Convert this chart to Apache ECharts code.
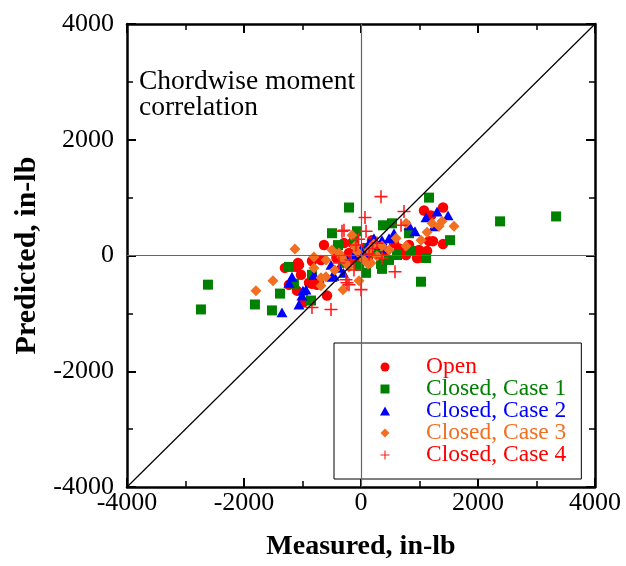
<!DOCTYPE html>
<html>
<head>
<meta charset="utf-8">
<script src="https://cdn.jsdelivr.net/npm/echarts@6/dist/echarts.min.js"></script>
<style>
  html, body { margin: 0; padding: 0; background: #fff; }
  #chart { width: 626px; height: 566px; }
</style>
</head>
<body>
<div id="chart"></div>
<script>
// axis ticks
const tickValues = [-4000, -2000, 0, 2000, 4000];

// measured / predicted pairs, in-lb
const openPts = [
  [-633, 180], [-1300, -214], [-1077, -128], [-1111, -197], [-1026, -333],
  [-1231, -504], [-1094, -607], [-838, -94], [-838, -487], [-718, -470],
  [-581, -693], [-684, -77], [-992, -812], [-1060, -162], [-889, -470],
  [-752, -504], [1077, 778], [1402, 829], [1197, 693], [1231, 248],
  [1163, 248], [1402, 197], [992, 94], [1129, 77], [975, -43],
  [770, 9], [188, 265], [257, 162], [428, 77], [958, -43],
  [-205, 43], [-103, -77], [51, 128], [-291, 214], [564, 214], [821, 180],
  [-420, -40], [300, 0], [650, 120], [-150, 220], [120, -30]
];
const case1Pts = [
  [-205, 829], [-496, 385], [-393, 180], [-1231, -197], [-2616, -504],
  [-2736, -932], [-1813, -846], [-1522, -949], [-1385, -658], [-1146, -487],
  [-855, -778], [-838, -333], [1163, 1000], [2377, 590], [3335, 675],
  [1522, 265], [376, 522], [530, 556], [821, 385], [1112, -43],
  [1026, -453], [342, -145], [359, -231], [86, -299], [616, 9],
  [-68, 419], [855, 77], [137, 128], [-291, -128], [-120, 299], [479, -77],
  [-30, -180], [250, 60]
];
const case2Pts = [
  [-1180, -368], [-992, -607], [-941, -590], [-1009, -693], [-1060, -846],
  [-1351, -983], [-804, -333], [-513, -162], [-496, -368], [-376, -214],
  [-1231, -470], [-462, -351], [1300, 761], [1488, 693], [1112, 658],
  [1248, 504], [923, 419], [821, 522], [564, 385], [479, 299],
  [359, 265], [308, 180], [-120, 9], [0, 94], [-239, -77], [137, 214], [222, 299],
  [-300, -300], [420, 120], [60, 40]
];
const case3Pts = [
  [-1129, 111], [-1505, -436], [-1796, -607], [-804, -26], [-804, -214],
  [-599, -77], [-599, -368], [-684, -522], [-308, -590], [-154, 351],
  [-257, -128], [-496, 94], [1590, 504], [1385, 590], [1334, 504],
  [1214, 556], [1129, 402], [1026, 265], [770, 556], [770, 162],
  [359, 162], [137, 94], [120, -145], [-34, -436], [-205, -197],
  [171, -128], [-684, -385], [-376, 43], [-103, 162], [51, -77], [274, -9], [479, 94],
  [-450, -250], [600, 300], [-60, 60], [220, 200], [-330, -30]
];
const case4Pts = [
  [-325, 419], [-838, -898], [-513, -932], [-257, -419], [-205, -504],
  [342, 1017], [68, 658], [735, 761], [684, 522], [-291, 436],
  [581, -282], [359, -43], [0, -590], [86, 419], [-86, 180],
  [-239, -470], [-171, -77], [137, 26], [274, 214], [-376, -128],
  [-40, 280], [200, 120], [-120, -250]
];
const diagonal = [[-4000, -4000], [4000, 4000]];

const serif = '"Liberation Serif", "DejaVu Serif", serif';
const plusPath = 'path://M4.4,0H5.6V4.4H10V5.6H5.6V10H4.4V5.6H0V4.4H4.4Z';
const squarePath = 'path://M0,0H10V10H0Z';
const trianglePath = 'path://M5,0L10,9H0Z';
const diamondPath = 'path://M5,0L10,5L5,10L0,5Z';

const myChart = echarts.init(document.getElementById('chart'));

const frameAxis = (pos, showLabel) => ({
  type: 'value',
  position: pos,
  min: tickValues[0],
  max: tickValues[tickValues.length - 1],
  interval: 2000,
  axisLine: { show: true, onZero: false, lineStyle: { color: '#000', width: 2.5 } },
  axisTick: { show: true, inside: true, length: 9, lineStyle: { color: '#000', width: 2 } },
  minorTick: { show: true, splitNumber: 2, length: 6, lineStyle: { color: '#000', width: 1.5 } },
  splitLine: { show: false },
  axisLabel: {
    show: showLabel, color: '#000', fontFamily: serif, fontSize: 26,
    formatter: (v) => String(v)
  }
});

const xBottom = Object.assign(frameAxis('bottom', true), {
  name: 'Measured, in-lb',
  nameLocation: 'middle',
  nameGap: 46,
  nameTextStyle: { color: '#000', fontFamily: serif, fontSize: 28, fontWeight: 'bold' }
});
xBottom.axisLabel.margin = 3;
const yLeft = Object.assign(frameAxis('left', true), {
  name: 'Predicted, in-lb',
  nameLocation: 'middle',
  nameGap: 84,
  nameTextStyle: { color: '#000', fontFamily: serif, fontSize: 30, fontWeight: 'bold' }
});
yLeft.axisLabel.margin = 13;

const scatter = (name, data, symbol, size, color) => ({
  name: name,
  type: 'scatter',
  symbol: symbol,
  symbolSize: size,
  symbolKeepAspect: true,
  itemStyle: { color: color, opacity: 1 },
  data: data,
  z: 3
});

const option = {
  animation: false,
  grid: { left: 127, top: 24, width: 468, height: 468 },
  xAxis: [xBottom, frameAxis('top', false)],
  yAxis: [yLeft, frameAxis('right', false)],
  graphic: [{
    type: 'text',
    left: 139,
    top: 68,
    style: {
      text: 'Chordwise moment\ncorrelation',
      font: '27.5px ' + serif,
      lineHeight: 26,
      fill: '#000'
    }
  }],
  legend: {
    orient: 'vertical',
    left: 334,
    top: 343,
    // icon group is laid out by its own box, so the left pad sets the icon column
    padding: [12, 15, 12, 46],
    itemWidth: 72,
    itemHeight: 9,
    itemGap: -2,
    borderColor: '#000',
    borderWidth: 1,
    borderRadius: 0,
    backgroundColor: '#fff',
    textStyle: { fontFamily: serif, fontSize: 23.5, lineHeight: 21.5, padding: 0 },
    data: [
      { name: 'Open', textStyle: { color: '#ff0000' } },
      { name: 'Closed, Case 1', textStyle: { color: '#008000' } },
      { name: 'Closed, Case 2', textStyle: { color: '#0000ff' } },
      { name: 'Closed, Case 3', textStyle: { color: '#f26f21' } },
      { name: 'Closed, Case 4', textStyle: { color: '#ff0000' } }
    ]
  },
  series: [
    {
      name: 'diagonal',
      type: 'line',
      data: diagonal,
      symbol: 'none',
      silent: true,
      lineStyle: { color: '#000', width: 1.2 },
      z: 4,
      markLine: {
        silent: true,
        symbol: 'none',
        label: { show: false },
        lineStyle: { color: '#666', width: 1.2, type: 'solid' },
        data: [{ xAxis: 0 }, { yAxis: 0 }]
      }
    },
    scatter('Open', openPts, 'circle', 10.5, '#ff0000'),
    scatter('Closed, Case 1', case1Pts, squarePath, 10, '#008000'),
    scatter('Closed, Case 2', case2Pts, trianglePath, 11, '#0000ff'),
    scatter('Closed, Case 3', case3Pts, diamondPath, 11, '#f26f21'),
    scatter('Closed, Case 4', case4Pts, plusPath, 13, '#ff1a1a')
  ]
};

myChart.setOption(option);

window.addEventListener('resize', () => {
  myChart.resize();
});
</script>
</body>
</html>
